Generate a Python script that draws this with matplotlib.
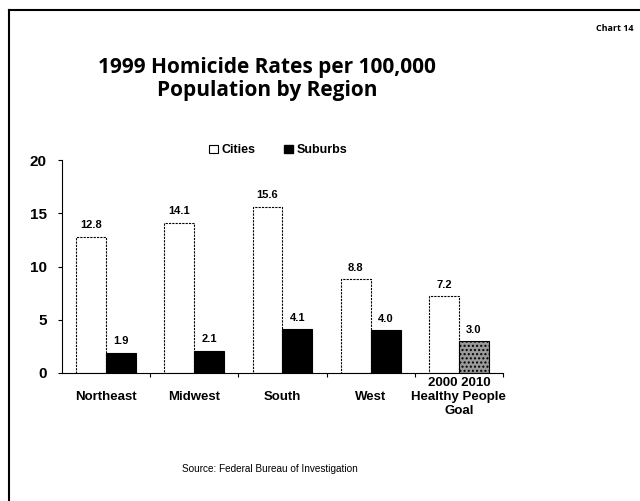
import matplotlib.pyplot as plt
import numpy as np
from matplotlib.lines import Line2D
from matplotlib.patches import Patch

# Data
regions = ["Northeast", "Midwest", "South", "West", "2000 2010\nHealthy People\nGoal"]
cities = [12.8, 14.1, 15.6, 8.8, 7.2]
suburbs = [1.9, 2.1, 4.1, 4.0, 3.0]
yticks = [0, 5, 10, 15, 20]

plt.rcParams['font.family'] = ['Liberation Sans', 'DejaVu Sans']

fig = plt.figure(figsize=(6.4, 5.01), dpi=100)
ax = fig.add_axes([0.0969, 0.2555, 0.689, 0.4251])

x = np.arange(len(regions))
w = 0.34

city_bars = ax.bar(x - w / 2, cities, w, color="white", edgecolor="black", linewidth=0.8, linestyle=(0, (2, 1)))
sub_colors = ["black"] * (len(suburbs) - 1) + ["#9a9a9a"]
sub_bars = ax.bar(x + w / 2, suburbs, w, color=sub_colors, edgecolor="black", linewidth=0.8)
# goal bar is stippled grey
sub_bars[-1].set_hatch("....")

for bars, vals in ((city_bars, cities), (sub_bars, suburbs)):
    for b, v in zip(bars, vals):
        ax.text(b.get_x() + b.get_width() / 2, v + 0.6, f"{v:.1f}",
                ha="center", va="bottom", fontsize=8, fontweight="bold")

ax.set_xlim(-0.5, len(regions) - 0.5)
ax.set_ylim(0, 20)
ax.set_yticks(yticks)
ax.set_yticklabels([str(t) for t in yticks], fontsize=11, fontweight="bold")
ax.tick_params(axis="y", length=3, width=0.8, pad=8)

# category labels: regular regions sit one line lower than the goal label
ax.set_xticks(x)
ax.set_xticklabels(["\n" + r if "\n" not in r else r for r in regions],
                   fontsize=9.5, fontweight="bold")
ax.tick_params(axis="x", which="major", length=0, pad=3)
ax.set_xticks(np.arange(len(regions)) + 0.5, minor=True)
ax.tick_params(axis="x", which="minor", length=3, width=0.8)

for s in ("top", "right"):
    ax.spines[s].set_visible(False)
ax.spines["left"].set_linewidth(0.8)
ax.spines["bottom"].set_linewidth(0.8)

handles = [Patch(facecolor="white", edgecolor="black", linewidth=0.8, label="Cities"),
           Patch(facecolor="black", edgecolor="black", label="Suburbs")]
fig.legend(handles=handles, loc="center", bbox_to_anchor=(0.435, 0.70), ncol=2,
           frameon=False, prop={"size": 9, "weight": "bold"}, handlelength=0.7,
           handleheight=0.7, handletextpad=0.3, columnspacing=2.3)

fig.text(0.417, 0.842, "1999 Homicide Rates per 100,000\nPopulation by Region",
         ha="center", va="center", fontsize=15, fontweight="bold",
         family="Open Sans", linespacing=1.1)
fig.text(0.99, 0.943, "Chart 14", ha="right", va="center", fontsize=6.5,
         fontweight="bold", family="Open Sans")
fig.text(0.422, 0.064, "Source: Federal Bureau of Investigation", ha="center",
         va="center", fontsize=7.2)

# page frame
fig.add_artist(Line2D([9 / 640, 1.0], [1 - 10 / 501, 1 - 10 / 501], color="black", linewidth=1.5))
fig.add_artist(Line2D([9 / 640, 9 / 640], [1 - 10 / 501, 0.0], color="black", linewidth=1.5))

fig.savefig("out.png", dpi=100)
